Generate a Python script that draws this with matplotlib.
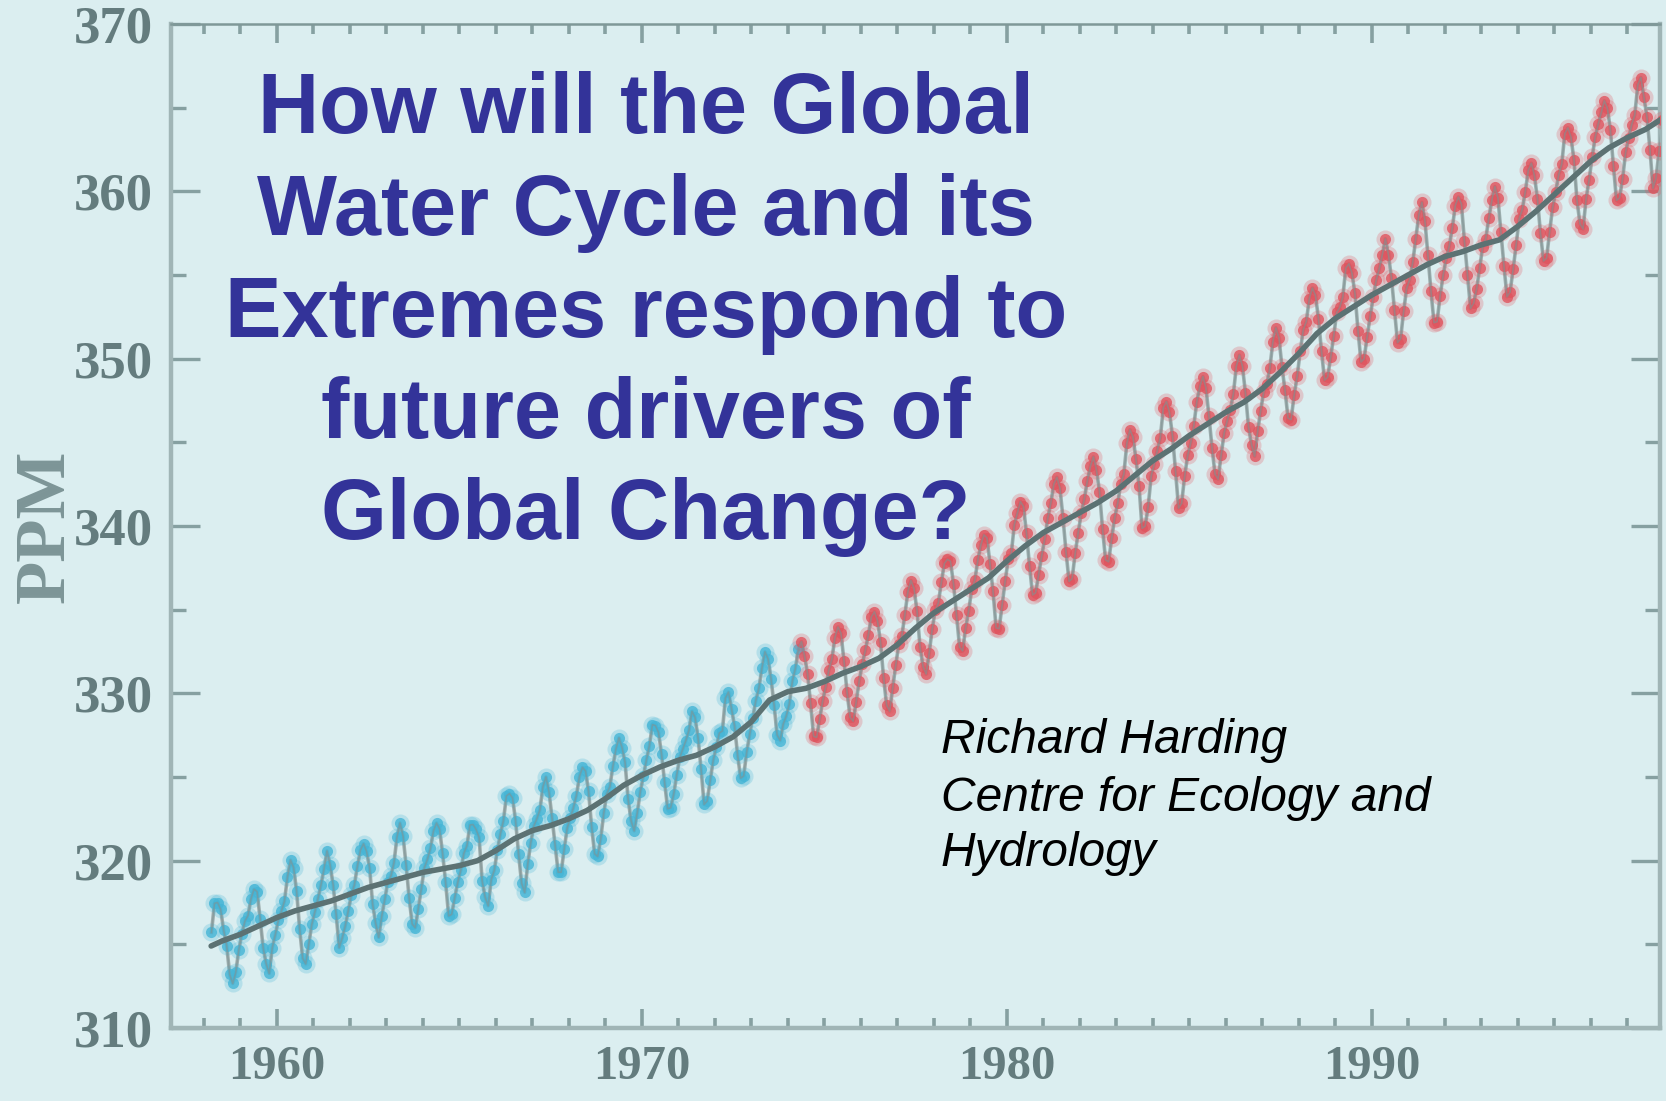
import numpy as np
import matplotlib
matplotlib.use("Agg")
import matplotlib.pyplot as plt
from matplotlib.ticker import MultipleLocator

# ---- data: monthly CO2 (ppm), March 1958 - December 1997 ----
co2_1958 = [315.71, 317.45, 317.50, 317.10, 315.86, 314.93, 313.20, 312.66, 313.33, 314.67]  # Mar-Dec
co2_monthly = {
    1959: [315.62, 316.38, 316.71, 317.72, 318.29, 318.15, 316.54, 314.80, 313.84, 313.26, 314.80, 315.58],
    1960: [316.43, 316.97, 317.58, 319.02, 320.03, 319.59, 318.18, 315.91, 314.16, 313.83, 315.00, 316.19],
    1961: [316.93, 317.70, 318.54, 319.48, 320.58, 319.77, 318.57, 316.79, 314.80, 315.38, 316.10, 317.01],
    1962: [317.94, 318.56, 319.68, 320.63, 321.01, 320.55, 319.58, 317.40, 316.26, 315.42, 316.69, 317.69],
    1963: [318.74, 319.08, 319.86, 321.39, 322.25, 321.47, 319.74, 317.77, 316.21, 315.99, 317.12, 318.31],
    1964: [319.57, 320.07, 320.73, 321.77, 322.25, 321.89, 320.44, 318.70, 316.70, 316.79, 317.79, 318.71],
    1965: [319.44, 320.44, 320.89, 322.13, 322.16, 321.87, 321.39, 318.81, 317.81, 317.30, 318.87, 319.42],
    1966: [320.62, 321.59, 322.39, 323.87, 324.01, 323.75, 322.39, 320.37, 318.64, 318.10, 319.79, 321.08],
    1967: [322.07, 322.50, 323.04, 324.42, 325.00, 324.09, 322.55, 320.92, 319.31, 319.31, 320.72, 321.96],
    1968: [322.57, 323.15, 323.89, 325.02, 325.57, 325.36, 324.14, 322.03, 320.41, 320.25, 321.31, 322.84],
    1969: [324.00, 324.42, 325.64, 326.66, 327.34, 326.76, 325.88, 323.67, 322.38, 321.78, 322.85, 324.11],
    1970: [325.03, 325.99, 326.87, 328.13, 328.07, 327.66, 326.35, 324.69, 323.10, 323.16, 323.98, 325.13],
    1971: [326.17, 326.68, 327.18, 327.78, 328.92, 328.57, 327.34, 325.46, 323.36, 323.57, 324.80, 326.01],
    1972: [326.77, 327.63, 327.75, 329.72, 330.07, 329.09, 328.05, 326.32, 324.93, 325.06, 326.50, 327.55],
    1973: [328.54, 329.56, 330.30, 331.50, 332.48, 332.07, 330.87, 329.31, 327.51, 327.18, 328.16, 328.64],
    1974: [329.35, 330.71, 331.48, 332.65, 333.09, 332.25, 331.18, 329.40, 327.43, 327.37, 328.46, 329.57],
    1975: [330.40, 331.40, 332.04, 333.31, 333.96, 333.59, 331.91, 330.06, 328.56, 328.34, 329.49, 330.76],
    1976: [331.75, 332.56, 333.50, 334.58, 334.87, 334.34, 333.05, 330.94, 329.30, 328.94, 330.31, 331.68],
    1977: [332.93, 333.42, 334.70, 336.07, 336.74, 336.27, 334.93, 332.75, 331.58, 331.16, 332.40, 333.85],
    1978: [334.97, 335.39, 336.64, 337.76, 338.01, 337.89, 336.54, 334.68, 332.76, 332.54, 333.92, 334.95],
    1979: [336.23, 336.76, 337.96, 338.88, 339.47, 339.29, 337.73, 336.09, 333.91, 333.86, 335.29, 336.73],
    1980: [338.01, 338.36, 340.08, 340.77, 341.46, 341.17, 339.56, 337.60, 335.88, 336.01, 337.10, 338.21],
    1981: [339.23, 340.47, 341.38, 342.51, 342.91, 342.25, 340.49, 338.43, 336.69, 336.85, 338.36, 339.61],
    1982: [340.75, 341.61, 342.70, 343.56, 344.13, 343.35, 342.06, 339.82, 337.97, 337.86, 339.26, 340.49],
    1983: [341.38, 342.52, 343.10, 344.94, 345.75, 345.32, 343.99, 342.39, 339.86, 339.99, 341.16, 342.99],
    1984: [343.70, 344.51, 345.28, 347.08, 347.43, 346.79, 345.40, 343.28, 341.07, 341.35, 342.98, 344.22],
    1985: [344.97, 345.99, 347.42, 348.35, 348.93, 348.25, 346.56, 344.67, 343.09, 342.80, 344.24, 345.56],
    1986: [346.29, 346.96, 347.86, 349.55, 350.21, 349.54, 347.94, 345.91, 344.86, 344.17, 345.66, 346.90],
    1987: [348.02, 348.47, 349.42, 350.99, 351.84, 351.25, 349.52, 348.10, 346.44, 346.36, 347.81, 348.96],
    1988: [350.43, 351.72, 352.22, 353.59, 354.22, 353.79, 352.39, 350.44, 348.72, 348.88, 350.07, 351.34],
    1989: [352.76, 353.07, 353.68, 355.42, 355.67, 355.12, 353.90, 351.67, 349.80, 349.99, 351.30, 352.53],
    1990: [353.66, 354.70, 355.39, 356.20, 357.16, 356.22, 354.82, 352.91, 350.96, 351.18, 352.83, 354.21],
    1991: [354.72, 355.75, 357.16, 358.60, 359.34, 358.24, 356.17, 354.02, 352.15, 352.21, 353.75, 354.99],
    1992: [355.99, 356.72, 357.81, 359.15, 359.66, 359.25, 357.02, 355.00, 353.01, 353.31, 354.16, 355.40],
    1993: [356.70, 357.16, 358.38, 359.46, 360.28, 359.60, 357.57, 355.52, 353.70, 353.98, 355.33, 356.80],
    1994: [358.36, 358.91, 359.97, 361.26, 361.68, 360.95, 359.55, 357.49, 355.84, 356.00, 357.58, 359.04],
    1995: [359.97, 361.00, 361.64, 363.45, 363.79, 363.26, 361.90, 359.46, 358.06, 357.75, 359.56, 360.70],
    1996: [362.05, 363.25, 364.03, 364.72, 365.41, 364.97, 363.65, 361.49, 359.46, 359.60, 360.76, 362.33],
    1997: [363.18, 363.99, 364.56, 366.36, 366.80, 365.63, 364.47, 362.50, 360.19, 360.78, 362.43, 364.28],
}

# smoothed trend line (year, ppm)
trend_years = [1958.2, 1958.5, 1959.0, 1959.5, 1960.0, 1960.5, 1961.0, 1961.5, 1962.0, 1962.5,
               1963.0, 1963.5, 1964.0, 1964.5, 1965.0, 1965.5, 1966.0, 1966.5, 1967.0, 1967.5,
               1968.0, 1968.5, 1969.0, 1969.5, 1970.0, 1970.5, 1971.0, 1971.5, 1972.0, 1972.5,
               1973.0, 1973.5, 1974.0, 1974.5, 1975.0, 1975.5, 1976.0, 1976.5, 1977.0, 1977.5,
               1978.0, 1978.5, 1979.0, 1979.5, 1980.0, 1980.5, 1981.0, 1981.5, 1982.0, 1982.5,
               1983.0, 1983.5, 1984.0, 1984.5, 1985.0, 1985.5, 1986.0, 1986.5, 1987.0, 1987.5,
               1988.0, 1988.5, 1989.0, 1989.5, 1990.0, 1990.5, 1991.0, 1991.5, 1992.0, 1992.5,
               1993.0, 1993.5, 1994.0, 1994.5, 1995.0, 1995.5, 1996.0, 1996.5, 1997.0, 1997.5, 1998.0]
trend_ppm = [314.9, 315.2, 315.6, 316.1, 316.6, 317.0, 317.3, 317.6, 318.0, 318.4,
             318.7, 319.0, 319.3, 319.5, 319.7, 320.0, 320.6, 321.3, 321.8, 322.1,
             322.5, 323.0, 323.7, 324.5, 325.1, 325.6, 326.0, 326.3, 326.8, 327.4,
             328.3, 329.6, 330.1, 330.3, 330.7, 331.2, 331.6, 332.1, 332.9, 333.9,
             334.8, 335.5, 336.2, 336.9, 337.9, 338.8, 339.6, 340.2, 340.8, 341.4,
             342.1, 343.0, 343.9, 344.6, 345.4, 346.1, 346.8, 347.4, 348.2, 349.2,
             350.3, 351.5, 352.4, 353.1, 353.8, 354.4, 355.0, 355.6, 356.1, 356.4,
             356.8, 357.1, 357.9, 358.8, 359.8, 360.8, 361.8, 362.6, 363.2, 363.7, 364.4]

split_year = 1974.3   # colour changes from blue to red here

x_ticks = [1960, 1970, 1980, 1990]
y_ticks = [310, 320, 330, 340, 350, 360, 370]

title_lines = ["How will the Global", "Water Cycle and its", "Extremes respond to",
               "future drivers of", "Global Change?"]
author_lines = ["Richard Harding", "Centre for Ecology and", "Hydrology"]

# ---- build the monthly series ----
t_list, v_list = [], []
for i, val in enumerate(co2_1958):
    t_list.append(1958 + (2 + i + 0.5) / 12)
    v_list.append(val)
for yr in sorted(co2_monthly):
    for m, val in enumerate(co2_monthly[yr]):
        t_list.append(yr + (m + 0.5) / 12)
        v_list.append(val)
t = np.array(t_list)
v = np.array(v_list)

W, H, DPI = 1666, 1101, 100
bg = "#dbeef0"
fig = plt.figure(figsize=(W / DPI, H / DPI), dpi=DPI, facecolor=bg)
ax = fig.add_axes([171 / W, 1 - 1028 / H, (1660 - 171) / W, (1028 - 24) / H])
ax.set_facecolor(bg)

# data
ax.plot(t, v, color="#98a8a8", lw=2.6, zorder=2, alpha=0.9)
blue = t < split_year
for mask, col in [(blue, "#45b5d6"), (~blue, "#e0545e")]:
    ax.plot(t[mask], v[mask], "o", ms=13, color=col, mec="none", alpha=0.25, zorder=3)
    ax.plot(t[mask], v[mask], "o", ms=8, color=col, mec="none", alpha=0.8, zorder=3)
ax.plot(t, v, color="#7f9293", lw=1.2, zorder=3.5, alpha=0.6)
ax.plot(trend_years, trend_ppm, color="#5c7273", lw=4.0, zorder=4, solid_capstyle="round")

ax.set_xlim(1957.1, 1997.9)
ax.set_ylim(310, 370)
ax.xaxis.set_major_locator(MultipleLocator(10))
ax.xaxis.set_minor_locator(MultipleLocator(1))
ax.yaxis.set_major_locator(MultipleLocator(10))
ax.yaxis.set_minor_locator(MultipleLocator(5))
ax.set_xticks(x_ticks)
ax.set_yticks(y_ticks)

tick_col = "#86a0a1"
lab_col = "#647c7e"
ax.tick_params(axis="x", which="major", direction="in", length=14, width=2.6, color=tick_col,
               top=True, bottom=True, pad=12.5)
ax.tick_params(axis="x", which="minor", direction="in", length=7.5, width=2.6, color=tick_col,
               top=True, bottom=True)
ax.tick_params(axis="y", which="major", direction="in", length=21, width=2.4, color=tick_col,
               left=True, right=True, pad=13)
ax.tick_params(axis="y", which="minor", direction="in", length=11, width=2.4, color=tick_col,
               left=True, right=True)

ax.set_xticklabels([str(x) for x in x_ticks],
                   fontdict=dict(family="Liberation Serif", weight="bold", size=35, color=lab_col))
ax.set_yticklabels([str(y) for y in y_ticks],
                   fontdict=dict(family="Liberation Serif", weight="bold", size=38, color=lab_col))

for side in ["left", "bottom", "right"]:
    ax.spines[side].set_color("#a0b5b6")
    ax.spines[side].set_linewidth(3.2)
ax.spines["top"].set_color("#7f9898")
ax.spines["top"].set_linewidth(1.8)

fig.text(46 / W, 1 - 526 / H, "PPM", rotation=90, ha="center", va="center",
         family="Liberation Serif", weight="bold", size=51, color="#7d9597")

# title block
title_baselines = [133, 235, 337, 438, 539]
for line, yb in zip(title_lines, title_baselines):
    fig.text(646 / W, 1 - yb / H, line, ha="center", va="baseline",
             family="Liberation Sans", weight="bold", size=61, color="#333399")

# author block
author_baselines = [753, 811, 866]
for line, yb in zip(author_lines, author_baselines):
    fig.text(941 / W, 1 - yb / H, line, ha="left", va="baseline",
             family="Liberation Sans", style="italic", size=34.5, color="black")

fig.savefig("out.png", dpi=DPI, facecolor=bg)
